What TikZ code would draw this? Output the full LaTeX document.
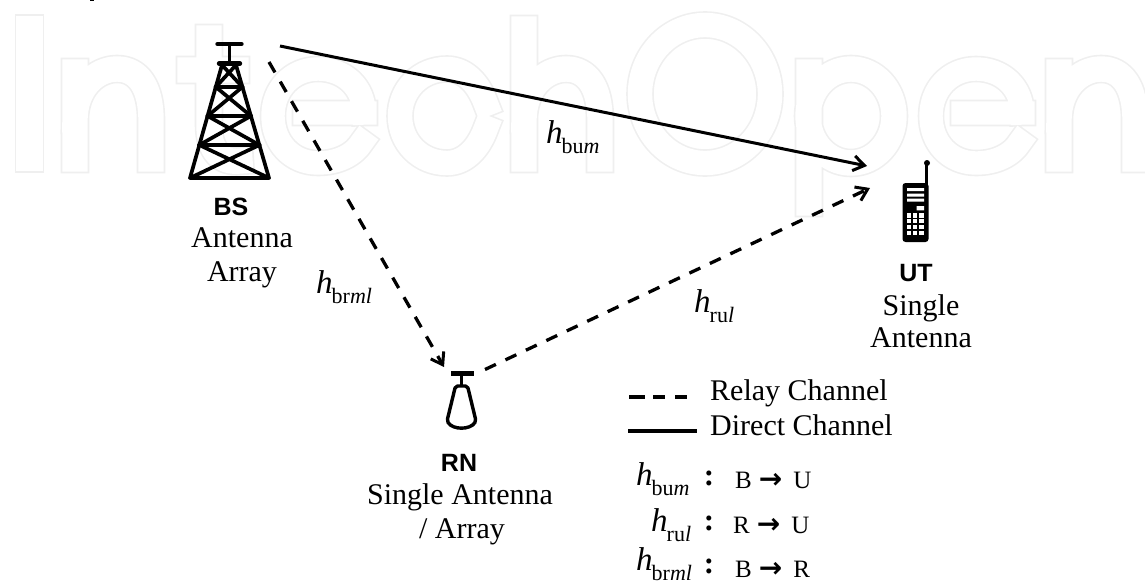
\documentclass[tikz,border=0pt]{standalone}
\usepackage{fontspec}
\setmainfont{Liberation Serif}
\newfontfamily\labfont{Liberation Sans}
\newfontfamily\arrfont{DejaVu Sans}
\usetikzlibrary{arrows.meta}
\definecolor{wmgrey}{HTML}{EFEFEF}
\newcommand\wmark[2]{%
  \draw[wmgrey,line cap=rect,line join=round,line width=#1pt+1.6pt] #2;
  \draw[white,line cap=rect,line join=round,line width=#1pt-1.6pt] #2;}
\newcommand\hsym[2]{{\fontsize{33pt}{33pt}\selectfont\itshape h}\kern-1pt\raisebox{-10pt}{\fontsize{22pt}{22pt}\selectfont #1\itshape #2}}
\newcommand\arch[1]{(#1+14,159) -- (#1+14,72) (#1+14,120) .. controls (#1+14,88) and (#1+35,69) .. (#1+56,69) .. controls (#1+78,69) and (#1+90,88) .. (#1+90,120) -- (#1+90,159)}
\newcommand\maps[2]{#1\kern7pt\smash{\arrfont\bfseries\fontsize{28pt}{28pt}\selectfont →}\kern11pt#2}
\tikzset{
  body/.style={font=\fontsize{30pt}{30pt}\selectfont,anchor=base,inner sep=0pt},
  abbr/.style={font=\labfont\bfseries\fontsize{25pt}{25pt}\selectfont,anchor=base,inner sep=0pt},
  sym/.style={anchor=base west,inner sep=0pt},
  lpart/.style={font=\fontsize{25pt}{25pt}\selectfont,anchor=base west,inner sep=0pt},
  colonmark/.style={font=\bfseries\fontsize{31pt}{31pt}\selectfont,anchor=base,inner sep=0pt},
  solidlink/.style={line width=3pt,-{Straight Barb[length=11pt,width=15pt]}},
  dashlink/.style={line width=3.3pt,dash pattern=on 12pt off 10.6pt,-{Straight Barb[length=11pt,width=15pt,line width=3pt]}},
  tower/.style={line width=3.7pt,line cap=round,line join=round},
  towerbar/.style={line width=4.4pt,line cap=round},
}
\begin{document}
\begin{tikzpicture}[x=1pt,y=-1pt]
\useasboundingbox (0,0) rectangle (1145,581);
\clip (0,0) rectangle (1145,581);
% watermark
\wmark{28}{(29.5,29) -- (29.5,158)}
\wmark{27}{\arch{61}}
\wmark{27}{(209,38) -- (209,125) .. controls (209,152) and (222,163) .. (240,161) (190,70) -- (236,70)}
\wmark{25}{(305,113) -- (365,113) (364,113) .. controls (364,87) and (344,69) .. (318,69) .. controls (292,69) and (273,89) .. (273,116) .. controls (273,143) and (292,163) .. (318,163) .. controls (338,163) and (354,155) .. (362,142)}
\wmark{26}{(486,104) .. controls (478,82) and (464,69) .. (447,69) .. controls (420,69) and (400,90) .. (400,116) .. controls (400,142) and (420,163) .. (447,163) .. controls (464,163) and (478,150) .. (486,128)}
\wmark{27}{(524,29) -- (524,158) \arch{510}}
\wmark{26}{(705,94) ellipse [x radius=65pt,y radius=69pt]}
\wmark{27}{(809,72) -- (809,203) (851,116) ellipse [x radius=43pt,y radius=47pt]}
\wmark{25}{(963,113) -- (1023,113) (1022,113) .. controls (1022,87) and (1002,69) .. (976,69) .. controls (950,69) and (931,89) .. (931,116) .. controls (931,143) and (950,163) .. (976,163) .. controls (996,163) and (1012,155) .. (1020,142)}
\wmark{27}{\arch{1045}}
\draw[line width=1.2pt] (90,0.5) -- (94,0.5);
% BS tower
\draw[tower] (222,65) -- (190,178) -- (269,178) -- (236,65);
\draw[towerbar] (219,63.5) -- (240,63.5);
\draw[towerbar] (217.5,44) -- (241.5,44);
\draw[line width=3pt] (229.5,44) -- (229.5,63);
\draw[towerbar] (215.8,87) -- (242.4,87) (207.6,116) -- (250.9,116) (199.3,145) -- (259.4,145);
\draw[tower] (222,65) -- (242.4,87) (236,65) -- (215.8,87)
  (215.8,87) -- (250.9,116) (242.4,87) -- (207.6,116)
  (207.6,116) -- (259.4,145) (250.9,116) -- (199.3,145)
  (199.3,145) -- (269,178) (259.4,145) -- (190,178);
% UT phone
\fill (927,163) circle (3pt);
\draw[line width=3pt] (926.5,163) -- (926.5,185);
\fill[rounded corners=3pt] (902.5,183) rectangle (928.5,242);
\fill[white] (907,188) rectangle (924,191) (907,193.5) rectangle (924,196.5) (907,198.7) rectangle (924,201.7) (916.7,206) rectangle (924,210.3);
\foreach \yy in {213.3,219.2,225.2,231.2}
  \foreach \xx in {906.7,912.8,919.2}
    \fill[white] (\xx,\yy) rectangle (\xx+4.4,\yy+4.2);
% RN icon
\fill (451,371) rectangle (474,375.7);
\draw[line width=3pt] (461.3,375) -- (461.3,385);
\draw[line width=3.4pt,line join=round,rounded corners=2pt] (455.5,386) -- (467.5,386) -- (476,421) .. controls (470,430) and (453,430) .. (447,421) -- cycle;
% endpoints
\coordinate (bsdirect) at (280,46);
\coordinate (bsrelay) at (269,62);
\coordinate (utdirect) at (867,166);
\coordinate (utrelay) at (870,188);
\coordinate (rnin) at (444,367);
\coordinate (rnout) at (485,369.5);
\draw[solidlink] (bsdirect) -- (utdirect);
\draw[dashlink] (bsrelay) -- (rnin);
\draw[dashlink] (rnout) -- (utrelay);
% labels
\node[abbr] (bsname) at (231,215) {BS};
\node[body] (bsl1) at (242,247) {Antenna};
\node[body] (bsl2) at (242,281) {Array};
\node[abbr] (utname) at (916,281) {UT};
\node[body] (utl1) at (921,315) {Single};
\node[body] (utl2) at (921,347) {Antenna};
\node[abbr] (rnname) at (459,471) {RN};
\node[body] (rnl1) at (460,504) {Single Antenna};
\node[body] (rnl2) at (462,538) {/ Array};
\node[sym] (h1) at (546,143) {\hsym{bu}{m}};
\node[sym] (h2) at (316,293) {\hsym{br}{ml}};
\node[sym] (h3) at (694,312) {\hsym{ru}{l}};
% legend
\coordinate (ld1) at (629,397); \coordinate (ld2) at (687,397);
\coordinate (ls1) at (628,431); \coordinate (ls2) at (697,431);
\draw[line width=3.3pt,dash pattern=on 16pt off 8pt on 12pt off 10pt on 12pt off 8pt] (ld1) -- (ld2);
\draw[line width=4pt] (ls1) -- (ls2);
\node[body,anchor=base west] (relay) at (710,400) {Relay Channel};
\node[body,anchor=base west] (direct) at (710,435) {Direct Channel};
\node[sym] (k1) at (636,485) {\hsym{bu}{m}};
\node[sym] (k2) at (651,531) {\hsym{ru}{l}};
\node[sym] (k3) at (636,570) {\hsym{br}{ml}};
\node[colonmark] (c1) at (709,485) {:};
\node[colonmark] (c2) at (709,530) {:};
\node[colonmark] (c3) at (709,573) {:};
\node[lpart] (p1) at (735,488) {\maps{B}{U}};
\node[lpart] (p2) at (733,533) {\maps{R}{U}};
\node[lpart] (p3) at (735,577) {\maps{B}{R}};
\end{tikzpicture}
\end{document}
